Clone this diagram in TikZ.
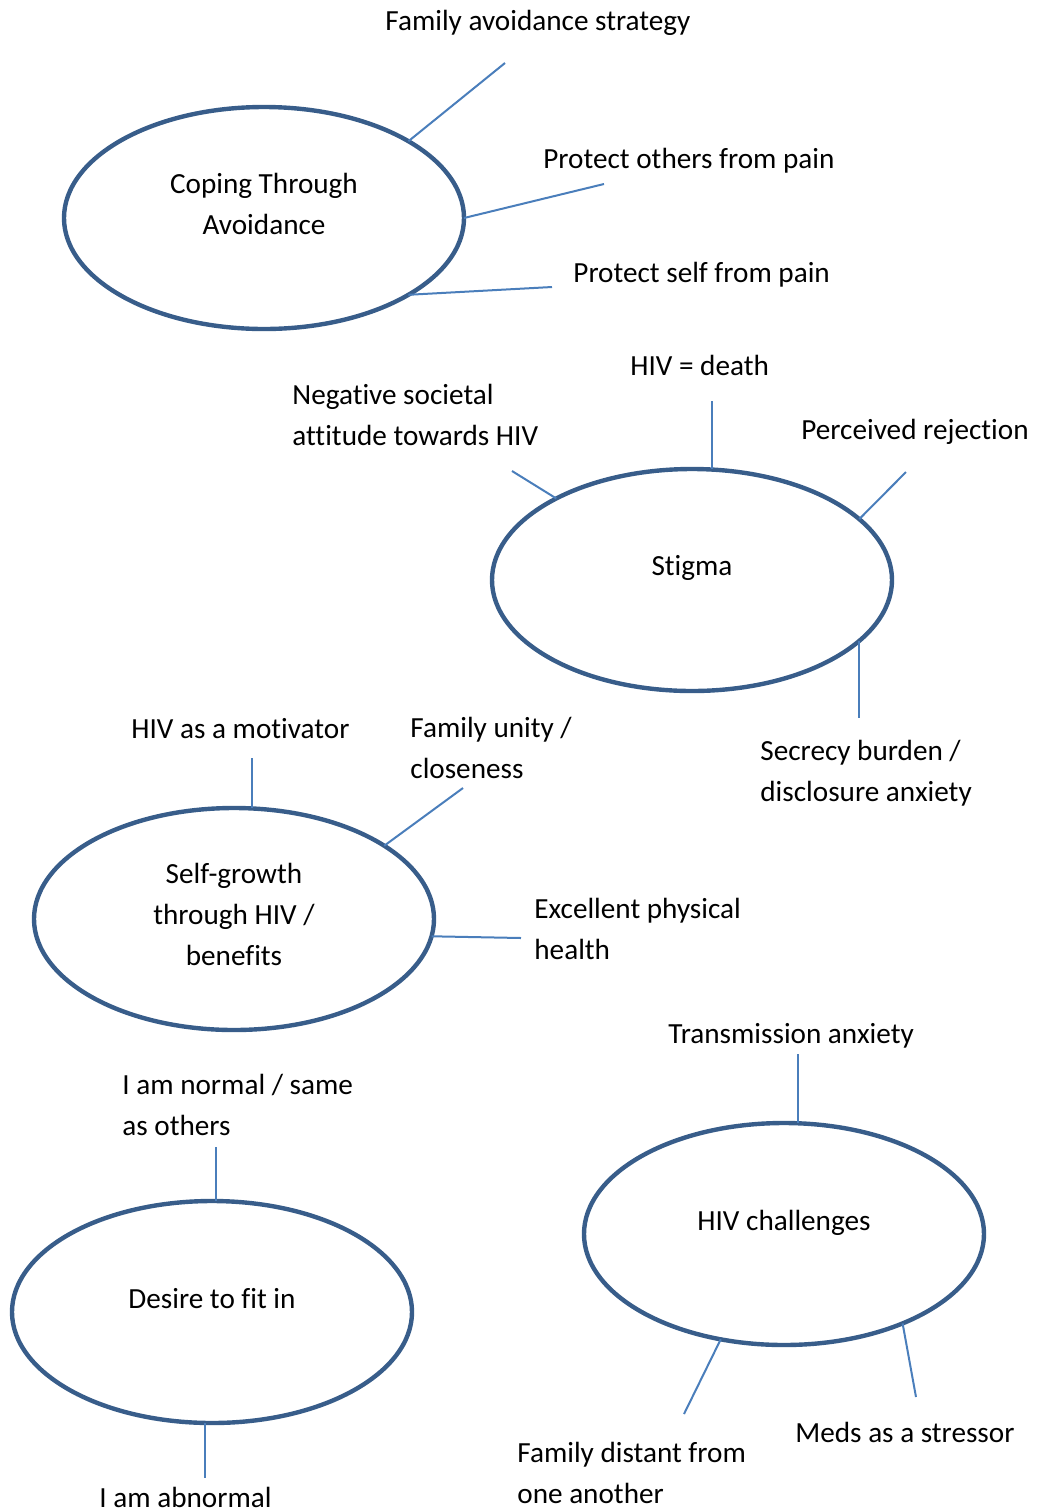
\documentclass[tikz,border=0pt]{standalone}
\usepackage{fontspec}
\setmainfont{Carlito}[Ligatures=NoCommon]
\usetikzlibrary{shapes.geometric}
\definecolor{ringblue}{HTML}{385D8A}
\definecolor{spokeblue}{HTML}{4A7EBB}
\begin{document}
\begin{tikzpicture}[x=0.5pt,y=-0.5pt,
  theme/.style={ellipse,draw=ringblue,line width=2.2pt,minimum width=200pt,minimum height=111pt,inner sep=0pt,outer sep=0pt},
  spoke/.style={draw=spokeblue,line width=1pt},
  lbl/.style={anchor=base west,inner sep=0pt,align=left,font=\fontsize{14.6pt}{20.5pt}\selectfont},
  clbl/.style={anchor=base,inner sep=0pt,align=center,font=\fontsize{14.6pt}{20.5pt}\selectfont}]
\useasboundingbox (0,0) rectangle (1039,1512);

% theme ellipses
\node[theme] (cope) at (264,218) {};
\node[theme] (stig) at (692,580) {};
\node[theme] (grow) at (234,919) {};
\node[theme] (fit)  at (212,1312) {};
\node[theme] (chal) at (784,1234) {};

% ellipse titles (multi-line nodes sit on the baseline of their last line)
\node[clbl] (tcope) at (264,234) {Coping Through\\Avoidance};
\node[clbl] (tstig) at (692,575) {Stigma};
\node[clbl] (tgrow) at (234,965) {Self-growth\\through HIV /\\benefits};
\node[clbl] (tfit)  at (212,1308) {Desire to fit in};
\node[clbl] (tchal) at (784,1230) {HIV challenges};

% sub-theme labels
\node[lbl] (l1)  at (385,30)   {Family avoidance strategy};
\node[lbl] (l2)  at (543,168)  {Protect others from pain};
\node[lbl] (l3)  at (573,282)  {Protect self from pain};
\node[lbl] (l4)  at (630,375)  {HIV = death};
\node[lbl] (l5)  at (292,445)  {Negative societal\\attitude towards HIV};
\node[lbl] (l6)  at (801,439)  {Perceived rejection};
\node[lbl] (l7)  at (760,801)  {Secrecy burden /\\disclosure anxiety};
\node[lbl] (l8)  at (131,738)  {HIV as a motivator};
\node[lbl] (l9)  at (410,778)  {Family unity /\\closeness};
\node[lbl] (l10) at (534,959)  {Excellent physical\\health};
\node[lbl] (l11) at (668,1043) {Transmission anxiety};
\node[lbl] (l12) at (122,1135) {I am normal / same\\as others};
\node[lbl] (l13) at (99,1507)  {I am abnormal};
\node[lbl] (l14) at (795,1442) {Meds as a stressor};
\node[lbl] (l15) at (517,1503) {Family distant from\\one another};

% free ends of the spokes
\coordinate (e1)  at (505,63);
\coordinate (e2)  at (604,184);
\coordinate (e3)  at (552,287);
\coordinate (e4)  at (712,401);
\coordinate (e5)  at (512,471);
\coordinate (e6)  at (906,472);
\coordinate (e7)  at (859,718);
\coordinate (e8)  at (252,758);
\coordinate (e9)  at (463,788);
\coordinate (e10) at (521,938);
\coordinate (e11) at (798,1054);
\coordinate (e12) at (216,1147);
\coordinate (e13) at (205,1478);
\coordinate (e14) at (916,1397);
\coordinate (e15) at (684,1414);

% slanted spokes
\draw[spoke] (cope.28.4)  -- (e1);
\draw[spoke] (cope.0)     -- (e2);
\draw[spoke] (cope.-28.9) -- (e3);
\draw[spoke] (stig.149)   -- (e5);
\draw[spoke] (stig.20.9)  -- (e6);
\draw[spoke] (grow.26.1)  -- (e9);
\draw[spoke] (grow.-5.4)  -- (e10);
\draw[spoke] (chal.-37.3) -- (e14);
\draw[spoke] (chal.239.3) -- (e15);

% vertical spokes
\draw[spoke] (e4 |- stig.north)  -- (e4);
\draw[spoke] (e7 |- stig.-20.1)  -- (e7);
\draw[spoke] (e8 |- grow.north)  -- (e8);
\draw[spoke] (e11 |- chal.north) -- (e11);
\draw[spoke] (e12 |- fit.north)  -- (e12);
\draw[spoke] (e13 |- fit.south)  -- (e13);
\end{tikzpicture}
\end{document}
